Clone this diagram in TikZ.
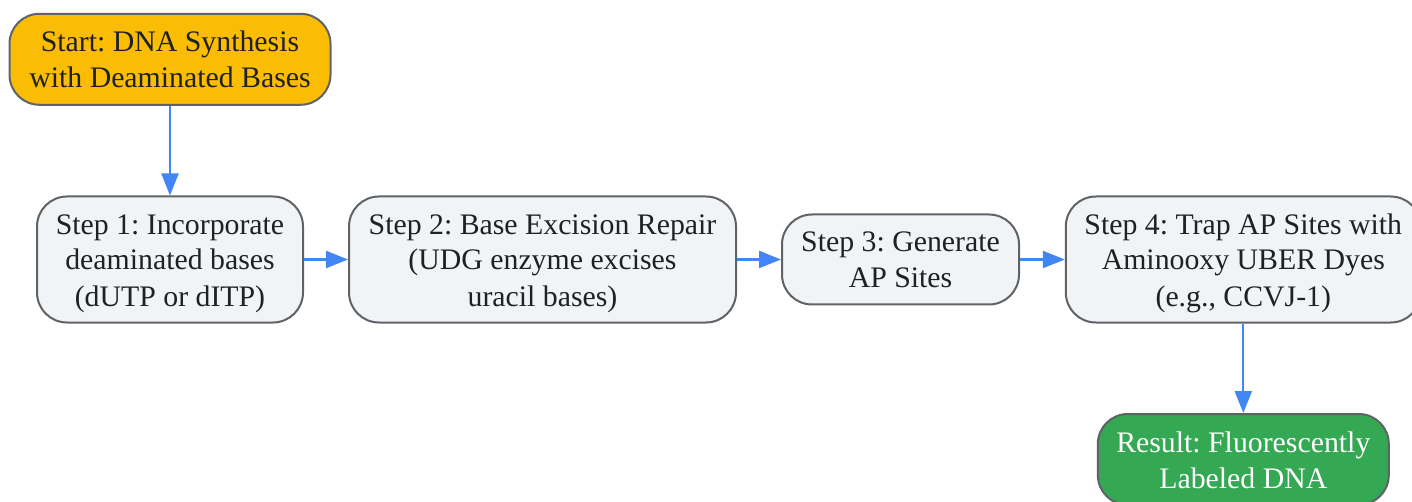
\documentclass[tikz,border=0pt]{standalone}
\usepackage{fontspec}
\setmainfont{Liberation Serif}
\usetikzlibrary{arrows.meta}
\definecolor{startyellow}{HTML}{FBBC04}
\definecolor{resultgreen}{HTML}{34A853}
\definecolor{stepgray}{HTML}{F1F3F4}
\definecolor{edgegray}{HTML}{5F6368}
\definecolor{flowblue}{HTML}{4285F4}
\definecolor{textdark}{HTML}{202124}
\newcommand{\topstrut}{\rule[-7pt]{0pt}{35pt}}
\newcommand{\bottomstrut}{\rule[-7pt]{0pt}{36pt}}
\frenchspacing

\begin{document}
\begin{tikzpicture}[x=1pt, y=-1pt,
		box/.style={draw=edgegray, line width=2pt, rounded corners=30pt, align=center,
			inner sep=0pt, text=textdark, font=\fontsize{29.8}{36}\selectfont},
		flow/.style={-{Triangle[length=22pt, width=17pt]}, flowblue, line width=2.2pt}]
		\useasboundingbox	(0, 0) rectangle (1412, 502);

		\node[box, fill=startyellow, minimum width=321pt, minimum height=91pt]	(start) at (170, 59.3) {\topstrut Start: DNA Synthesis\\with Deaminated Bases\bottomstrut};

		\node[box, fill=stepgray, minimum width=266pt, minimum height=126pt]	(incorporate) at (170, 259.5) {\topstrut Step 1: Incorporate\\deaminated bases\\(dUTP or dITP)\bottomstrut};
		\node[box, fill=stepgray, minimum width=387pt, minimum height=126pt]	(repair) at (542.5, 259.5) {\topstrut Step 2: Base Excision Repair\\(UDG enzyme excises\\uracil bases)\bottomstrut};
		\node[box, fill=stepgray, minimum width=237pt, minimum height=90pt]	(apsites) at (900.5, 259.5) {\topstrut Step 3: Generate\\AP Sites\bottomstrut};
		\node[box, fill=stepgray, minimum width=355pt, minimum height=126pt]	(trap) at (1243.3, 259.5) {\topstrut Step 4: Trap AP Sites with\\Aminooxy UBER Dyes\\(e.g., CCVJ-1)\bottomstrut};

		\node[box, fill=resultgreen, text=white, minimum width=291pt, minimum height=91pt]	(result) at (1243.3, 459.5) {\topstrut Result: Fluorescently\\Labeled DNA\bottomstrut};

		\draw[flow]	(start) to (incorporate);
		\draw[flow]	(incorporate) to (repair);
		\draw[flow]	(repair) to (apsites);
		\draw[flow]	(apsites) to (trap);
		\draw[flow]	(trap) to (result);
	\end{tikzpicture}
\end{document}
